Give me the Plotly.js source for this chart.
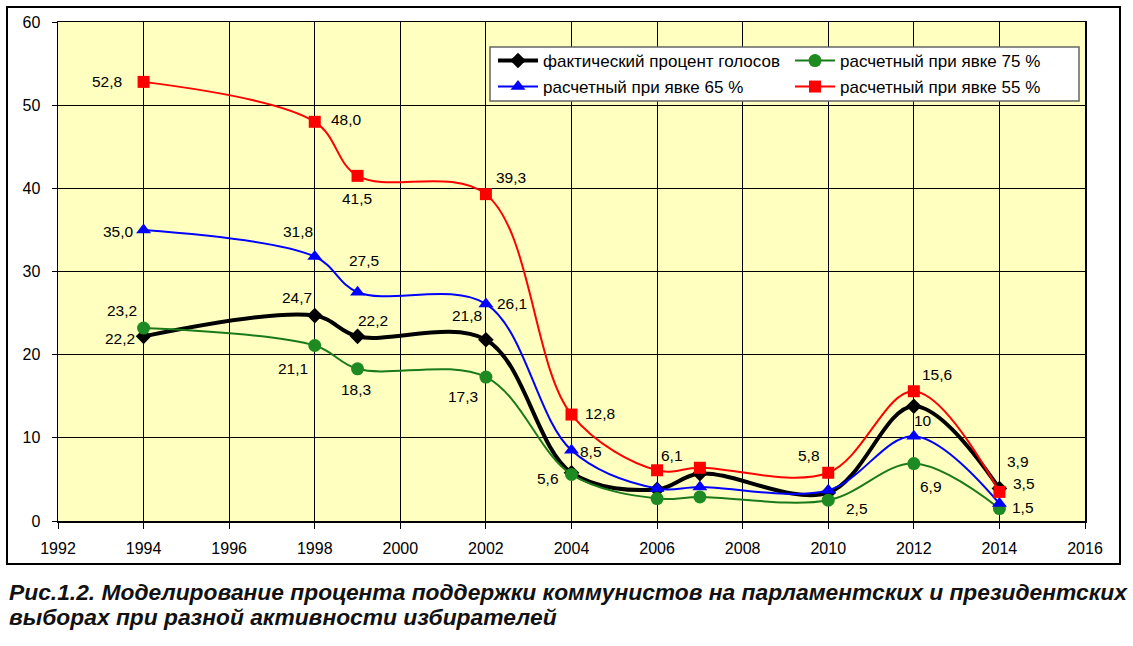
<!DOCTYPE html>
<html>
<head>
<meta charset="utf-8">
<script src="https://cdn.plot.ly/plotly-3.0.1.min.js"></script>
<style>
  body { margin: 0; background: #fff; }
  #chart { width: 1133px; height: 646px; }
</style>
</head>
<body>
<div id="chart"></div>
<script>
// years of elections
var years = [1994, 1998, 1999, 2002, 2004, 2006, 2007, 2010, 2012, 2014];

// values
var actual    = [22.2, 24.7, 22.2, 21.8, 5.8, 3.8, 5.7, 3.4, 13.8, 3.9];
var turnout75 = [23.2, 21.1, 18.3, 17.3, 5.6, 2.7, 2.9, 2.5, 6.9, 1.5];
var turnout65 = [35.0, 31.8, 27.5, 26.1, 8.5, 3.9, 4.1, 3.7, 10.2, 2.1];
var turnout55 = [52.8, 48.0, 41.5, 39.3, 12.8, 6.1, 6.4, 5.8, 15.6, 3.5];

// data labels as printed on the chart
var actualLbl = ['22,2', '24,7', '22,2', '21,8', null, null, null, null, null, '3,9'];
var t75Lbl    = ['23,2', '21,1', '18,3', '17,3', '5,6', null, null, '2,5', '6,9', '1,5'];
var t65Lbl    = ['35,0', '31,8', '27,5', '26,1', '8,5', null, null, null, '10', null];
var t55Lbl    = ['52,8', '48,0', '41,5', '39,3', '12,8', '6,1', null, '5,8', '15,6', '3,5'];

var names = ['фактический процент голосов', 'расчетный при явке 75 %',
             'расчетный при явке 65 %', 'расчетный при явке 55 %'];

var xTicks = [1992, 1994, 1996, 1998, 2000, 2002, 2004, 2006, 2008, 2010, 2012, 2014, 2016];

var caption1 = 'Рис.1.2. Моделирование процента поддержки коммунистов на парламентских и президентских';
var caption2 = 'выборах при разной активности избирателей';

// label offsets in px (dx right, dy up)
var actualOff = [[-24,-2],[-18,18],[15,16],[-19,24],null,null,null,null,null,[19,27]];
var t75Off    = [[-22,18],[-22,-23],[-2,-21],[-23,-19],[-24,-4],null,null,[29,-8],[17,-23],[24,1]];
var t65Off    = [[-25,-2],[-17,25],[6,32],[26,0],[19,-1],null,null,null,[9,16],null];
var t55Off    = [[-37,0],[32,2],[-1,-23],[25,17],[28,1],[15,15],null,[-19,17],[23,17],[25,8]];

var FONT = 'Arial, "Liberation Sans", sans-serif';

function mkTrace(y, name, color, lw, sym, msize, mcolor, leg) {
  return {
    type: 'scatter',
    mode: 'lines+markers',
    x: years,
    y: y,
    name: name,
    legend: leg,
    line: { color: color, width: lw, shape: 'spline', smoothing: 1 },
    marker: { symbol: sym, size: msize, color: mcolor, line: { width: 0 } },
    hoverinfo: 'x+y'
  };
}

// each series gets its own legend so the 2x2 grid can be placed exactly
var data1 = [
  mkTrace(actual, names[0], '#000000', 4, 'diamond', 12, '#000000', 'legend'),
  mkTrace(turnout75, names[1], '#1a7a1a', 2, 'circle', 13, '#1e8a22', 'legend2'),
  mkTrace(turnout65, names[2], '#0000ff', 2, 'triangle-up', 13, '#0000ff', 'legend3'),
  mkTrace(turnout55, names[3], '#ff0000', 2, 'square', 12, '#ff0000', 'legend4')
];

// data labels
var annotations = [];
function addLabels(vals, lbls, offs) {
  vals.forEach(function (v, i) {
    if (lbls[i] == null) return;
    annotations.push({
      x: years[i], y: v, xref: 'x', yref: 'y',
      text: lbls[i], showarrow: false,
      xshift: offs[i][0], yshift: offs[i][1],
      font: { family: FONT, size: 15.5, color: '#000' }
    });
  });
}
addLabels(actual, actualLbl, actualOff);
addLabels(turnout75, t75Lbl, t75Off);
addLabels(turnout65, t65Lbl, t65Off);
addLabels(turnout55, t55Lbl, t55Off);

// plot area in px: x 58..1085, y 22..521
var L = 58, R = 1085, T = 22, B = 521;
function px(x) { return (x - L) / (R - L); }
function py(y) { return (B - y) / (B - T); }

[[caption1, 592], [caption2, 617]].forEach(function (c) {
  annotations.push({
    xref: 'paper', yref: 'paper', x: px(7), y: py(c[1]),
    xanchor: 'left', yanchor: 'middle', align: 'left',
    text: '<b><i>' + c[0] + '</i></b>', showarrow: false,
    font: { family: FONT, size: 22.8, color: '#111' }
  });
});

var shapes = [
  // outer frame of the chart
  { type: 'rect', xref: 'paper', yref: 'paper', x0: px(7), x1: px(1120), y0: py(564), y1: py(7),
    line: { color: '#000', width: 2 }, layer: 'below' },
  // legend box
  { type: 'rect', xref: 'paper', yref: 'paper', x0: px(490), x1: px(1079), y0: py(101), y1: py(47),
    fillcolor: '#ffffff', line: { color: '#666', width: 1.5 }, layer: 'above' }
];

var legFont = { family: FONT, size: 17, color: '#000' };
function mkLegend(x, y) {
  return {
    orientation: 'v', x: px(x), y: py(y), xanchor: 'left', yanchor: 'top',
    bgcolor: 'rgba(0,0,0,0)', borderwidth: 0, font: legFont, itemwidth: 40
  };
}

var layout = {
  width: 1133,
  height: 646,
  margin: { l: L, r: 1133 - R, t: T, b: 646 - B, pad: 0 },
  paper_bgcolor: '#ffffff',
  plot_bgcolor: '#ffffc0',
  font: { family: FONT, size: 16, color: '#000' },
  showlegend: true,
  legend: mkLegend(493, 43),
  legend2: mkLegend(790, 43),
  legend3: mkLegend(493, 69),
  legend4: mkLegend(790, 69),
  xaxis: {
    range: [1992, 2016],
    tickvals: xTicks,
    ticktext: xTicks.map(String),
    showgrid: true, gridcolor: '#000', gridwidth: 1,
    showline: true, linecolor: '#000', linewidth: 1.5, mirror: true,
    ticks: 'outside', ticklen: 6, tickcolor: '#000',
    ticklabelstandoff: 6,
    zeroline: false,
    tickfont: { family: FONT, size: 16, color: '#000' }
  },
  yaxis: {
    range: [0, 60],
    dtick: 10,
    showgrid: true, gridcolor: '#000', gridwidth: 1,
    showline: true, linecolor: '#000', linewidth: 1.5, mirror: true,
    ticks: 'outside', ticklen: 5, tickcolor: '#000',
    ticklabelstandoff: 8,
    zeroline: false,
    tickfont: { family: FONT, size: 16, color: '#000' }
  },
  annotations: annotations,
  shapes: shapes
};

Plotly.newPlot('chart', data1, layout, { displayModeBar: false, staticPlot: true });
</script>
</body>
</html>
